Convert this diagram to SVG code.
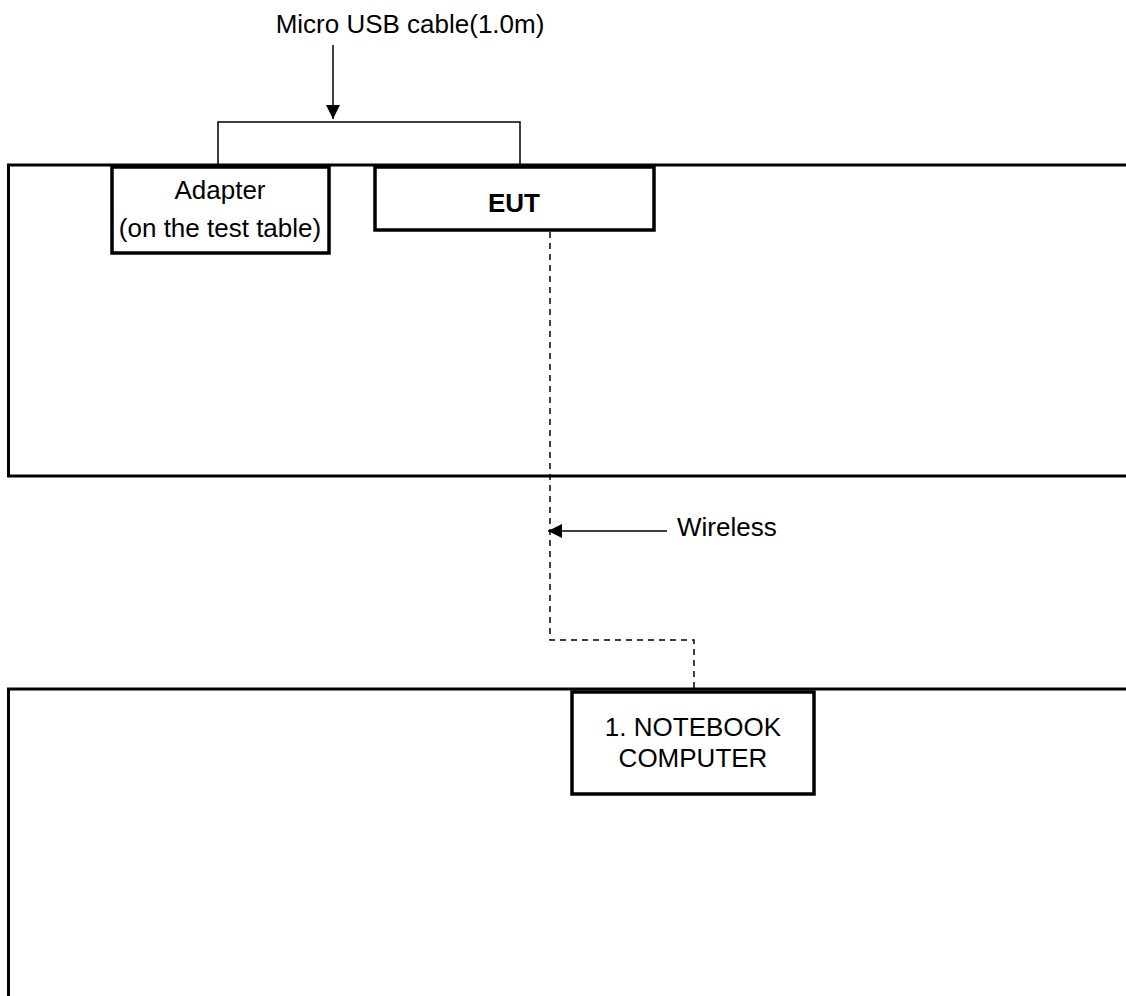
<svg xmlns="http://www.w3.org/2000/svg" width="1126" height="996" viewBox="0 0 1126 996">
<style>
text{font-family:"Liberation Sans",Arial,sans-serif;font-size:26px;fill:#000}
.table{fill:none;stroke:#000;stroke-width:3}
.box{fill:#fff;stroke:#000;stroke-width:3.5}
.thin{fill:none;stroke:#000;stroke-width:1.5}
.dash{fill:none;stroke:#000;stroke-width:1.5;stroke-dasharray:6 5}
</style>
<defs>
<marker id="ah" markerWidth="14" markerHeight="14" refX="14" refY="7" orient="auto" markerUnits="userSpaceOnUse">
<path d="M0,0 L14,7 L0,14 Z" fill="#000"/>
</marker>
</defs>
<rect width="1126" height="996" fill="#fff"/>
<g id="table-top"><path class="table" d="M1130,165 H8.5 V476 H1130"/></g>
<g id="table-bottom"><path class="table" d="M1130,689 H8.5 V1000"/></g>
<g id="connectors">
<path class="thin" d="M218,165 V122 H520 V165"/>
<line class="thin" x1="333" y1="45" x2="333" y2="119" marker-end="url(#ah)"/>
<path class="dash" d="M550,232 V640 H694 V688"/>
<line class="thin" x1="667" y1="531" x2="548" y2="531" marker-end="url(#ah)"/>
</g>
<g id="label-cable"><text x="410" y="33" text-anchor="middle">Micro USB cable(1.0m)</text></g>
<g id="label-wireless"><text x="677" y="536">Wireless</text></g>
<g id="adapter">
<rect class="box" x="112" y="167" width="217" height="86"/>
<text x="220" y="199" text-anchor="middle">Adapter</text>
<text x="220" y="237" text-anchor="middle">(on the test table)</text>
</g>
<g id="eut">
<rect class="box" x="375" y="167" width="279" height="63"/>
<text x="514" y="212" text-anchor="middle" font-weight="bold">EUT</text>
</g>
<g id="notebook">
<rect class="box" x="572" y="692" width="242" height="102"/>
<text x="693" y="736" text-anchor="middle">1. NOTEBOOK</text>
<text x="693" y="767" text-anchor="middle">COMPUTER</text>
</g>
</svg>
